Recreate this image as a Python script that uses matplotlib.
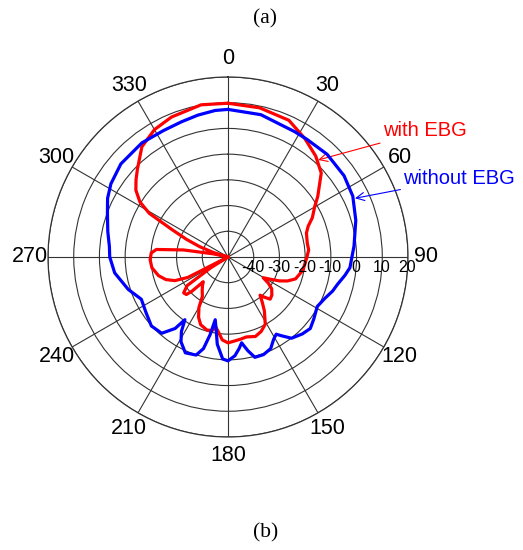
import numpy as np
import matplotlib
matplotlib.use("Agg")
import matplotlib.pyplot as plt

plt.rcParams['font.family'] = ['Liberation Sans', 'DejaVu Sans']

# angles (deg, clockwise from top) and gain (dB)
blue_theta = [0, 13, 28, 34, 44, 55, 64, 74, 85, 90, 95, 99, 104, 108, 113, 119,
              126, 131, 136, 142, 146, 148, 151, 155, 160, 165, 168, 171, 173,
              176, 180, 183, 187, 189, 191.5, 193, 195, 198, 204, 209, 212,
              214.5, 216.5, 221, 228, 236, 244, 252, 262, 270, 275, 282, 290,
              296, 302, 311, 323, 333, 341, 348, 355, 360]
blue_db = [7.4, 6.8, 5.2, 5.1, 5.5, 5.1, 4.0, 1.7, -0.8, -1.8, -2.4, -4.0, -6.1,
           -7.2, -9.0, -10.3, -8.8, -7.6, -8.4, -9.9, -13.1, -14.6, -13.4, -10.7,
           -9.6, -9.6, -12.7, -16.2, -14.2, -11.5, -9.6, -10.3, -15.8, -20.8,
           -25.1, -18.9, -13.1, -9.9, -9.2, -12.3, -15.8, -20.4, -15.4, -10.7,
           -9.9, -11.5, -12.5, -9.2, -5.5, -4.0, -3.7, -2.2, -0.1, 2.1, 3.7, 5.2,
           5.6, 5.2, 5.6, 6.4, 7.2, 7.4]

red_theta = [0, 12, 24, 33, 41, 48, 56, 60, 65, 69, 73, 80, 85, 90, 100, 108,
             112, 115, 118, 120.5, 123, 126, 131, 135, 138, 140, 143, 146, 151,
             156, 161, 167, 171, 175, 180, 184, 187, 190, 192, 196, 202, 206,
             210, 213, 218, 222, 225, 226.5, 228, 231, 235, 238, 240, 243, 246,
             250, 255, 262, 268, 273, 276, 279, 282, 284, 287, 290, 293, 296,
             299, 302, 306, 310, 314, 322, 330, 338, 350, 360]
red_db = [9.8, 9.3, 8.2, 4.9, 2.0, -1.2, -7.9, -11.1, -13.8, -16.6, -18.1, -18.7,
          -18.5, -19.3, -20.4, -22.4, -25.1, -28.0, -31.7, -34.1, -31.3, -29.0,
          -27.4, -26.8, -29.0, -30.6, -27.8, -24.7, -20.1, -18.3, -17.3, -18.1,
          -17.7, -17.3, -16.6, -17.7, -20.4, -22.4, -20.8, -20.4, -21.6, -23.9,
          -27.4, -31.7, -33.7, -35.2, -36.4, -30.6, -28.2, -27.8, -30.6, -42.2,
          -50.0, -32.5, -27.4, -24.3, -22.0, -20.1, -19.7, -20.1, -22.0, -32.5,
          -44.2, -50.0, -44.2, -38.3, -32.5, -25.9, -15.0, -9.6, -5.7, -3.3,
          -1.0, 4.4, 7.2, 8.7, 10.1, 9.8]

r_ticks = [-40, -30, -20, -10, 0, 10, 20]
r_tick_labels = ['-40', '-30', '-20', '-10', '0', '10', '20']
theta_ticks = list(range(0, 360, 30))

fig = plt.figure(figsize=(5.23, 5.5), dpi=100)
ax = fig.add_axes([0.0918, 0.2055, 0.6883, 0.6545], projection='polar')
ax.set_theta_zero_location('N')
ax.set_theta_direction(-1)
ax.set_ylim(-50, 20)

ax.plot(np.deg2rad(red_theta), red_db, color='#ff0000', lw=2.3, zorder=3,
        solid_joinstyle='round', solid_capstyle='round')
ax.plot(np.deg2rad(blue_theta), blue_db, color='#0000ff', lw=2.3, zorder=4,
        solid_joinstyle='round', solid_capstyle='round')

ax.set_thetagrids(theta_ticks, [str(t) for t in theta_ticks], fontsize=15.5)
ax.tick_params(axis='x', pad=2.5)
ax.set_rticks(r_ticks)
ax.set_yticklabels([])
ax.grid(True, color='#333333', lw=0.8)
ax.spines['polar'].set_color('#333333')
ax.spines['polar'].set_linewidth(0.9)

# radial labels along the 90 deg spoke
for r, lab in zip(r_ticks, r_tick_labels):
    ax.annotate(lab, xy=(np.deg2rad(90), r), xytext=(-0.5, -2.5),
                textcoords='offset points', ha='center', va='top',
                fontsize=11.5, zorder=5)

ax.annotate('with EBG', xy=(np.deg2rad(42.9), 1.5),
            xytext=(0.732, 0.762), textcoords='figure fraction',
            ha='left', va='center', color='#ff0000', fontsize=14.5,
            arrowprops=dict(arrowstyle='->', color='#ff0000', lw=0.8,
                            shrinkA=0, shrinkB=0))
ax.annotate('without EBG', xy=(np.deg2rad(65.2), 4.4),
            xytext=(0.771, 0.676), textcoords='figure fraction',
            ha='left', va='center', color='#0000ff', fontsize=14.5,
            arrowprops=dict(arrowstyle='->', color='#0000ff', lw=0.8,
                            shrinkA=0, shrinkB=0))

fig.text(0.507, 0.965, '(a)', ha='center', va='center',
         family='Liberation Serif', fontsize=15.5)
fig.text(0.507, 0.031, '(b)', ha='center', va='center',
         family='Liberation Serif', fontsize=15.5)

fig.savefig('out.png', dpi=100)
